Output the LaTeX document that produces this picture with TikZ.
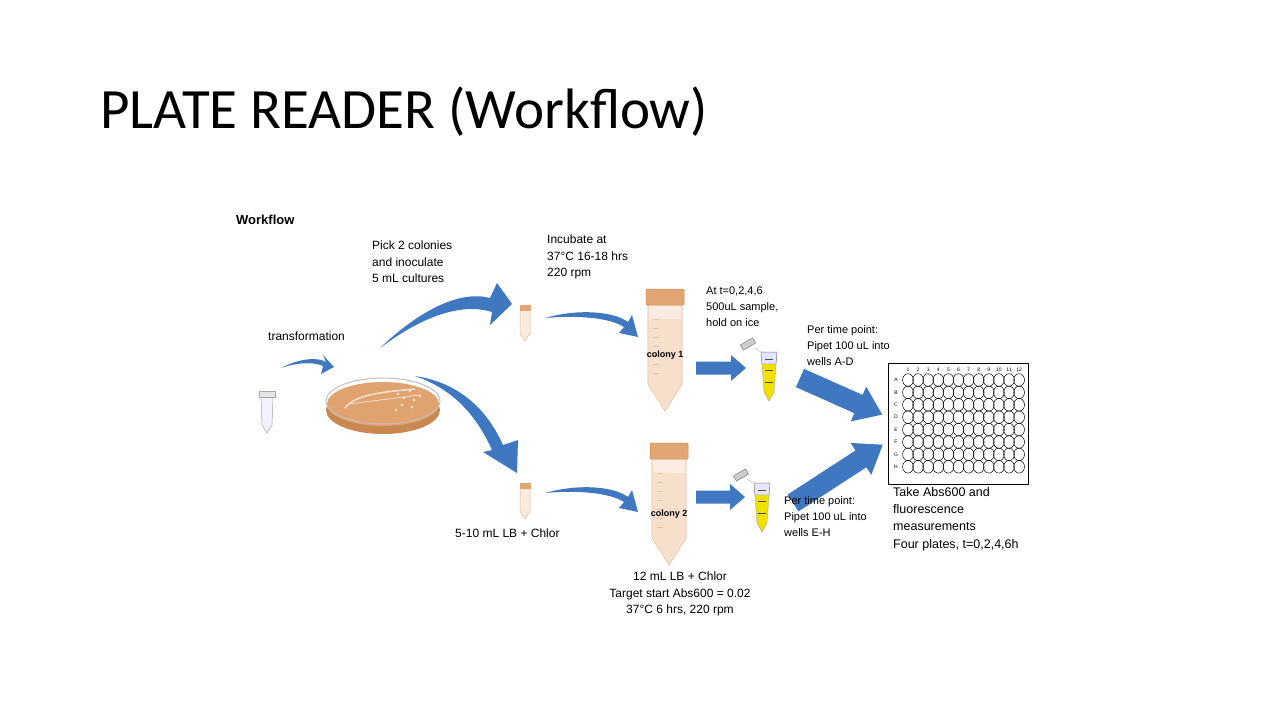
\documentclass[tikz,border=0pt]{standalone}
\usepackage{fontspec}
\setmainfont{Liberation Sans}
\newfontfamily\titlefont{Carlito}
\usetikzlibrary{calc}
\definecolor{arrblue}{HTML}{3F78C0}
\definecolor{agar}{HTML}{E0A370}
\definecolor{agarrim}{HTML}{C98850}
\definecolor{tubeor}{HTML}{F6E0CC}
\definecolor{capor}{HTML}{E2A574}
\definecolor{yel}{HTML}{F2E000}
\tikzset{
  lbl/.style={font=\fontsize{12}{16.5}\selectfont, align=left, inner sep=0pt, anchor=north west},
  small/.style={font=\fontsize{11}{16}\selectfont, align=left, inner sep=0pt, anchor=north west},
}
% start, angle, length, shaft, head, head length
\newcommand{\blockarrow}[6]{%
  \begin{scope}[shift={#1}, rotate=#2]
    \fill[arrblue] (0,-#4/2) -- (#3-#6,-#4/2) -- (#3-#6,-#5/2) -- (#3,0) -- (#3-#6,#5/2) -- (#3-#6,#4/2) -- (0,#4/2) -- cycle;
  \end{scope}}
\newcommand{\bigtube}[3]{% x, ytop, name
  \fill[tubeor!60, draw=capor!80, line width=0.6pt] (#1-17,#2+14) -- (#1+17,#2+14) -- (#1+17,#2+95) -- (#1,#2+122) -- (#1-17,#2+95) -- cycle;
  \fill[tubeor] (#1-16,#2+30) -- (#1+16,#2+30) -- (#1+16,#2+95) -- (#1,#2+120) -- (#1-16,#2+95) -- cycle;
  \fill[capor, draw=agarrim, line width=0.5pt, rounded corners=1pt] (#1-19,#2) rectangle (#1+19,#2+16);
  \foreach \k in {0,...,6} \draw[capor!70, line width=0.4pt] (#1-12,#2+30+\k*9) -- (#1-6,#2+30+\k*9);
  \coordinate (#3) at (#1,#2+60);
}
\newcommand{\smalltube}[2]{% x, ytop
  \fill[tubeor!60, draw=capor!80, line width=0.5pt] (#1-5,#2+5) -- (#1+5,#2+5) -- (#1+5,#2+28) -- (#1,#2+36) -- (#1-5,#2+28) -- cycle;
  \fill[capor] (#1-5.5,#2) rectangle (#1+5.5,#2+6);
}
\newcommand{\yeltube}[2]{% x, ytop
  \fill[blue!10, draw=gray, line width=0.5pt] (#1-8,#2) -- (#1+8,#2) -- (#1+7,#2+12) -- (#1-7,#2+12) -- cycle;
  \fill[yel, draw=gray!70, line width=0.4pt] (#1-7,#2+12) -- (#1+7,#2+12) -- (#1+5,#2+40) -- (#1,#2+49) -- (#1-5,#2+40) -- cycle;
  \draw[gray!60!black, line width=0.6pt] (#1-4,#2+7) -- (#1+4,#2+7) (#1-4,#2+18) -- (#1+4,#2+18) (#1-4,#2+30) -- (#1+4,#2+30);
  \fill[gray!40, draw=gray, line width=0.5pt, rotate around={30:(#1-21,#2-8)}] (#1-28,#2-11) rectangle (#1-14,#2-5);
  \draw[gray!60, line width=0.4pt] (#1-15,#2-4) -- (#1-8,#2);
}
\begin{document}
\begin{tikzpicture}[x=1pt,y=-1pt]
\useasboundingbox (0,0) rectangle (1280,720);
\fill[white] (0,0) rectangle (1280,720);

\node[anchor=base west, inner sep=0pt, font=\titlefont\fontsize{57}{57}\selectfont] (title) at (100,128) {PLATE READER (Workflow)};
\node[lbl, font=\bfseries\fontsize{13}{16}\selectfont] (wf) at (236,215) {Workflow};

% eppendorf (transformation)
\fill[blue!5, draw=gray!70, line width=0.5pt] (261,397) -- (273,397) -- (272,425) -- (267,433) -- (262,425) -- cycle;
\fill[gray!20, draw=gray!70, line width=0.5pt] (259,391) rectangle (275,397);
\coordinate (ep) at (267,410);

% petri dish
\fill[agarrim] (383,410) ellipse (57 and 24);
\fill[agar] (383,404) ellipse (56 and 22);
\draw[gray!50, line width=1pt] (383,401) ellipse (57 and 23);
\foreach \p in {(398,394),(404,398),(410,391),(414,400),(420,396),(402,405),(412,407),(396,410)} \fill[white!80!agar] \p circle (1.3);
\draw[white!70!agar, line width=1.5pt] (345,408) .. controls (355,395) and (380,392) .. (415,389);
\draw[white!70!agar, line width=0.8pt] (348,404) -- (420,395);
\coordinate (dish) at (383,404);

% curved arrows
\coordinate (t0) at (281,368); \coordinate (t1) at (334,367);
\fill[arrblue] (t0) .. controls (300,358) and (318,357) .. (326,362) -- (323,355) -- (t1) -- (321,374) -- (323,366) .. controls (315,362) and (298,362) .. cycle;
\coordinate (u0) at (380,348); \coordinate (u1) at (512,304);
\fill[arrblue] (u0) .. controls (420,310) and (460,290) .. (490,298) -- (497,283) -- (u1) -- (490,325) -- (492,312) .. controls (460,302) and (420,318) .. cycle;
\coordinate (d0) at (415,376); \coordinate (d1) at (517,473);
\fill[arrblue] (d0) .. controls (455,382) and (485,405) .. (503,445) -- (518,440) -- (d1) -- (483,452) -- (492,450) .. controls (475,412) and (450,388) .. cycle;

% small tubes
\smalltube{525}{305}
\smalltube{525}{483}
\coordinate (s1) at (545,318); \coordinate (s2) at (545,493);

% big tubes
\bigtube{665}{289}{c1}
\bigtube{669}{443}{c2}
\node[font=\bfseries\fontsize{9}{10}\selectfont] (c1l) at (665,355) {colony 1};
\node[font=\bfseries\fontsize{9}{10}\selectfont] (c2l) at (669,514) {colony 2};

\fill[arrblue] (s1) .. controls (580,308) and (615,312) .. (628,322) -- (632,315) -- (638,337) -- (619,333) -- (624,327) .. controls (610,318) and (580,315) .. cycle;
\fill[arrblue] (s2) .. controls (580,483) and (615,487) .. (628,497) -- (632,490) -- (638,512) -- (619,508) -- (624,502) .. controls (610,493) and (580,490) .. cycle;

% yellow tubes
\yeltube{769}{352}
\yeltube{762}{483}

% straight block arrows
\blockarrow{(696,368)}{0}{50}{13}{26}{15}
\blockarrow{(696,497)}{0}{49}{13}{26}{15}
\blockarrow{(800,378)}{-24}{90}{20}{38}{26}
\blockarrow{(793,503)}{33}{107}{20}{38}{26}

% plate
\draw[black, line width=0.6pt, fill=white] (888,363) rectangle (1028,484);
\node (plate) at (958,423) {};
\foreach \c in {1,...,12} \node[font=\fontsize{5}{5}\selectfont, inner sep=0pt] at ({908+(\c-1)*10.1},370) {\c};
\foreach \r [count=\i from 0] in {A,B,C,D,E,F,G,H} {
  \node[font=\fontsize{5}{5}\selectfont, inner sep=0pt] at (896,{380+\i*12.4}) {\r};
  \foreach \c in {1,...,12} \draw[line width=0.5pt] ({908+(\c-1)*10.1},{380+\i*12.4}) ellipse (5.4 and 6.3);
}

% texts
\node[lbl] (pick) at (372,241) {Pick 2 colonies\\and inoculate\\5 mL cultures};
\node[lbl] (inc) at (547,235) {Incubate at\\37\textdegree C 16-18 hrs\\220 rpm};
\node[lbl] (tr) at (268,332) {transformation};
\node[small] (at) at (706,287) {At t=0,2,4,6\\500uL sample,\\hold on ice};
\node[small] (pa) at (807,325) {Per time point:\\Pipet 100 uL into\\wells A-D};
\node[small] (pe) at (784,496) {Per time point:\\Pipet 100 uL into\\wells E-H};
\node[lbl] (lb) at (455,529) {5-10 mL LB + Chlor};
\node[lbl, anchor=north, align=center] (lb2) at (680,572) {12 mL LB + Chlor\\Target start Abs600 = 0.02\\37\textdegree C 6 hrs, 220 rpm};
\node[lbl, font=\fontsize{12.5}{17.3}\selectfont] (take) at (893,487) {Take Abs600 and\\fluorescence\\measurements\\Four plates, t=0,2,4,6h};
\end{tikzpicture}
\end{document}
